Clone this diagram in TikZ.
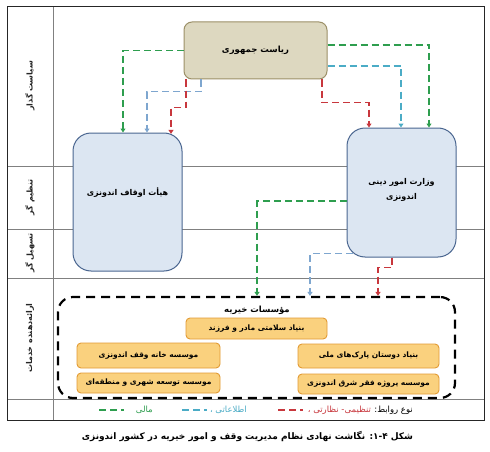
\documentclass[tikz,border=0pt]{standalone}
\usepackage{fontspec}
\usetikzlibrary{arrows.meta}
\TeXXeTstate=1
\newfontfamily\fa[Script=Arabic]{DejaVu Sans}
\definecolor{grn}{HTML}{2E9E4F}
\definecolor{blu}{HTML}{4BACC6}
\definecolor{blu2}{HTML}{7EA6CF}
\definecolor{rd}{HTML}{C8373D}
\definecolor{presfill}{HTML}{DDD8C0}
\definecolor{presdraw}{HTML}{9C9068}
\definecolor{bfill}{HTML}{DCE6F2}
\definecolor{bdraw}{HTML}{4A6690}
\definecolor{ofill}{HTML}{FAD17E}
\definecolor{odraw}{HTML}{E29B35}
\newcommand{\fatext}[1]{{\fa\beginR #1\endR}}
\begin{document}
\begin{tikzpicture}[x=1pt,y=-1pt,
  pbox/.style={rectangle, rounded corners=8pt, draw=presdraw, fill=presfill, line width=1pt,
    minimum width=143pt, minimum height=57pt, font=\fa\bfseries\fontsize{8.5}{10}\selectfont},
  bbox/.style={rectangle, rounded corners=18pt, draw=bdraw, fill=bfill, line width=1pt,
    minimum width=109pt},
  btxt/.style={align=center, font=\fa\bfseries\fontsize{8}{15}\selectfont},
  obox/.style={rectangle, rounded corners=4pt, draw=odraw, fill=ofill, line width=0.9pt,
    font=\fa\bfseries\fontsize{7.5}{9}\selectfont},
  rowlab/.style={rotate=90, font=\fa\bfseries\fontsize{8}{9}\selectfont, text=black!85},
  conn/.style={line width=1.7pt, dash pattern=on 7pt off 4pt, -{Triangle[width=5pt,length=4pt]}},
  legdash/.style={line width=1.7pt, dash pattern=on 7pt off 4pt},
  legtxt/.style={font=\fa\fontsize{8.5}{10}\selectfont, anchor=east, inner sep=0pt},
  rowline/.style={draw=black!50, line width=0.7pt}
]
\fill[white] (0,0) rectangle (490,452);
\useasboundingbox (0,0) rectangle (490,452);

% table
\draw[rowline] (7,166) -- (484,166);
\draw[rowline] (7,229) -- (484,229);
\draw[rowline] (7,278) -- (484,278);
\draw[rowline] (7,399) -- (484,399);
\draw[rowline] (53,7) -- (53,420);
\draw[line width=1pt, draw=black!85] (7,7) rectangle (484,420);

% row labels
\node[rowlab] (r1) at (30,86) {\fatext{سیاست گذار}};
\node[rowlab] (r2) at (30,197) {\fatext{تنظیم گر}};
\node[rowlab] (r3) at (30,253) {\fatext{تسهیل گر}};
\node[rowlab] (r4) at (30,338) {\fatext{ارائه‌دهنده خدمات}};

% main boxes
\node[pbox] (pres) at (255.5,50.5) {\fatext{ریاست جمهوری}};
\node[bbox, minimum height=138pt] (awqaf) at (127.5,202) {};
\node[btxt] (awqaft) at ([yshift=9pt]awqaf.center) {\fatext{هیأت اوقاف اندونزی}};
\node[bbox, minimum height=129pt] (min) at (401.5,192.5) {};
\node[btxt] (mint) at ([yshift=3pt]min.center) {\fatext{وزارت امور دینی}\\\fatext{اندونزی}};

% container
\node[draw=black, line width=2.2pt, dash pattern=on 9pt off 6pt, rounded corners=15pt,
  minimum width=397pt, minimum height=101pt] (cont) at (256.5,347.5) {};
\node[font=\fa\bfseries\fontsize{8.5}{10}\selectfont] (ttl) at (257,310) {\fatext{مؤسسات خیریه}};

\node[obox, minimum width=141pt, minimum height=21pt] (o1) at (256.5,328.5) {\fatext{بنیاد سلامتی مادر و فرزند}};
\node[obox, minimum width=143pt, minimum height=25pt] (o2) at (148.5,355.5) {\fatext{موسسه خانه وقف اندونزی}};
\node[obox, minimum width=143pt, minimum height=20pt] (o3) at (148.5,383) {\fatext{موسسه توسعه شهری و منطقه‌ای}};
\node[obox, minimum width=141pt, minimum height=24pt] (o4) at (368.5,356) {\fatext{بنیاد دوستان پارک‌های ملی}};
\node[obox, minimum width=141pt, minimum height=20pt] (o5) at (368.5,384) {\fatext{موسسه پروژه فقر شرق اندونزی}};

% connectors from presidency
\draw[conn, grn] (pres.west) -| ([xshift=-4.5pt]awqaf.north);
\draw[conn, blu2] ([xshift=-54.5pt]pres.south) -- ++(0,12) -| ([xshift=19.5pt]awqaf.north);
\draw[conn, rd] ([xshift=-69.5pt]pres.south) -- ++(0,28) -| ([xshift=43.5pt,yshift=-1.4pt]awqaf.north);
\draw[conn, grn] ([yshift=5.5pt]pres.east) -| ([xshift=27.5pt]min.north);
\draw[conn, blu] ([yshift=-15.5pt]pres.east) -| ([xshift=-0.5pt]min.north);
\draw[conn, rd] ([xshift=66.5pt]pres.south) -- ++(0,23) -| ([xshift=-32.5pt]min.north);

% connectors from ministry
\draw[conn, grn] ([yshift=-8.5pt]min.west) -| ([xshift=0.5pt]cont.north);
\draw[conn, blu2] ([xshift=6pt,yshift=4pt]min.south west) -| ([xshift=53.5pt]cont.north);
\draw[conn, rd] ([xshift=-9.5pt]min.south) -- ++(0,10) -| ([xshift=121.5pt]cont.north);

% legend
\node[legtxt] (lt1) at (413,410) {\fatext{نوع روابط:}};
\node[legtxt, text=rd] (lt1b) at ([xshift=-3pt]lt1.west) {\fatext{تنظیمی- نظارتی ،}};
\coordinate (lr1) at (278,410); \coordinate (lr2) at (303,410);
\draw[legdash, rd] (lr1) -- (lr2);
\node[legtxt, text=blu] (lt2) at (247,410) {\fatext{اطلاعاتی ،}};
\coordinate (lb1) at (182,410); \coordinate (lb2) at (207,410);
\draw[legdash, blu] (lb1) -- (lb2);
\node[legtxt, text=grn] (lt3) at (153,410) {\fatext{مالی}};
\coordinate (lg1) at (99,410); \coordinate (lg2) at (124,410);
\draw[legdash, grn] (lg1) -- (lg2);

% caption
\node[font=\fa\bfseries\fontsize{9}{11}\selectfont] (cap) at (247.5,437)
  {\fatext{شکل ۴\kern0pt-\kern0pt۱\kern0pt: نگاشت نهادی نظام مدیریت وقف و امور خیریه در کشور اندونزی}};
\end{tikzpicture}
\end{document}
